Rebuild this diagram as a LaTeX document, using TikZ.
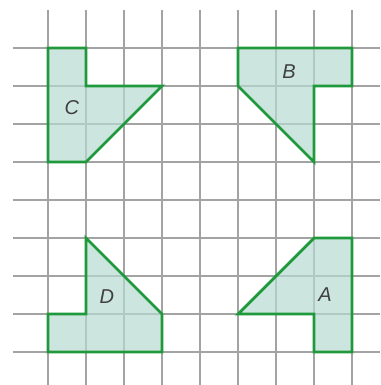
\documentclass[tikz,border=0pt]{standalone}
\usepackage{fontspec}
\setsansfont{Liberation Sans}
\usepackage{tikz}
\usetikzlibrary{calc}

\definecolor{gridgray}{HTML}{A3A3A3}
\definecolor{shapegreen}{HTML}{1E9A3C}
\definecolor{shapefill}{HTML}{B8DAD1}

\tikzset{
	gridline/.style={gridgray, line width=1.3pt},
	piece/.style={draw=shapegreen, fill=shapefill, fill opacity=0.7, line width=2.1pt, line join=miter},
	tag/.style={font=\fontsize{15}{18}\selectfont\sffamily\itshape, text=black!75}
}

\begin{document}
\begin{tikzpicture}
		\useasboundingbox (-1.263,-0.868) rectangle (8.737,9.263);
		\foreach \i in {0,...,8} {
			\draw [gridline] (\i,-0.868) -- (\i,9.0);
			\draw [gridline] (-0.921,\i) -- (8.737,\i);
		}
		\draw [piece] (0,8) -- (1,8) -- (1,7) -- (3,7) -- (1,5) -- (0,5) -- cycle;
		\draw [piece] (5,8) -- (8,8) -- (8,7) -- (7,7) -- (7,5) -- (5,7) -- cycle;
		\draw [piece] (1,3) -- (3,1) -- (3,0) -- (0,0) -- (0,1) -- (1,1) -- cycle;
		\draw [piece] (7,3) -- (8,3) -- (8,0) -- (7,0) -- (7,1) -- (5,1) -- cycle;
		\node [tag] (c) at (0.63,6.42) {C};
		\node [tag] (b) at (6.34,7.37) {B};
		\node [tag] (d) at (1.55,1.47) {D};
		\node [tag] (a) at (7.29,1.5) {A};
	\end{tikzpicture}
\end{document}
